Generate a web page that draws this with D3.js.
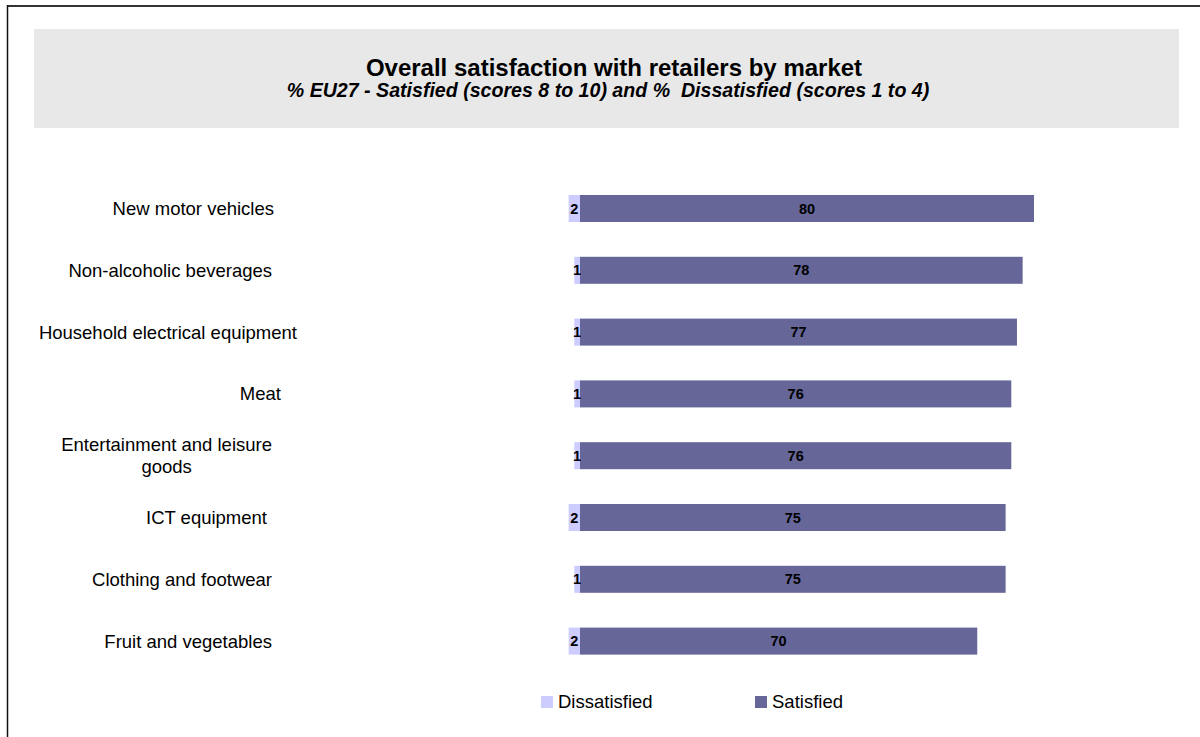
<!DOCTYPE html>
<html>
<head>
<meta charset="utf-8">
<script src="https://cdn.jsdelivr.net/npm/d3@7"></script>
<style>
  html, body { margin: 0; padding: 0; background: #ffffff; }
  svg { display: block; font-family: Arial, "Liberation Sans", sans-serif; }
  .pre { white-space: pre; }
</style>
</head>
<body>
<svg id="chart" width="1200" height="737"></svg>
<script>
// Markets, top to bottom
const categories = [
  "New motor vehicles",
  "Non-alcoholic beverages",
  "Household electrical equipment",
  "Meat",
  "Entertainment and leisure goods",
  "ICT equipment",
  "Clothing and footwear",
  "Fruit and vegetables"
];
// % Dissatisfied (scores 1 to 4)
const dissatisfied = [2, 1, 1, 1, 1, 2, 1, 2];
// % Satisfied (scores 8 to 10)
const satisfied = [80, 78, 77, 76, 76, 75, 75, 70];

const seriesNames = ["Dissatisfied", "Satisfied"];
const titleText = "Overall satisfaction with retailers by market";
const subtitleText = "% EU27 - Satisfied (scores 8 to 10) and %  Dissatisfied (scores 1 to 4)";

// Wrapped category labels
const labelLines = {
  "Entertainment and leisure goods": ["Entertainment and leisure", "goods"]
};
// Small horizontal nudges for category labels
const labelNudge = {
  "New motor vehicles": 2,
  "Household electrical equipment": 25,
  "Meat": 9,
  "ICT equipment": -5
};

const colors = { Dissatisfied: "#ccccff", Satisfied: "#666699" };

const svg = d3.select("#chart");

// Outer frame (top and left edges)
svg.append("line").attr("x1", 7).attr("x2", 1200).attr("y1", 6).attr("y2", 6)
  .attr("stroke", "#333").attr("stroke-width", 2);
svg.append("line").attr("x1", 7.5).attr("x2", 7.5).attr("y1", 5).attr("y2", 737)
  .attr("stroke", "#111").attr("stroke-width", 1.5);

// Title panel
svg.append("rect").attr("x", 34).attr("y", 29).attr("width", 1145).attr("height", 99)
  .attr("fill", "#e8e8e8");
svg.append("text").attr("x", 614).attr("y", 76).attr("text-anchor", "middle")
  .attr("font-size", 24).attr("font-weight", "bold").attr("fill", "#000")
  .text(titleText);
svg.append("text").attr("class", "pre").attr("x", 608).attr("y", 97).attr("text-anchor", "middle")
  .attr("font-size", 19.6).attr("font-weight", "bold").attr("font-style", "italic")
  .attr("fill", "#000").text(subtitleText);

// Scales
const x = d3.scaleLinear().domain([-10, 100]).range([523.25, 1147.5]);
const y = d3.scaleBand().domain(categories).range([177.6, 672])
  .paddingInner(0.563).paddingOuter(0.2815);

const rows = categories.map((c, i) => ({ c, dis: dissatisfied[i], sat: satisfied[i] }));

// Dissatisfied segments extend left of zero
svg.append("g").selectAll("rect").data(rows).join("rect")
  .attr("x", d => x(-d.dis)).attr("width", d => x(0) - x(-d.dis))
  .attr("y", d => y(d.c)).attr("height", y.bandwidth())
  .attr("fill", colors.Dissatisfied);

// Satisfied segments extend right of zero
svg.append("g").selectAll("rect").data(rows).join("rect")
  .attr("x", x(0)).attr("width", d => x(d.sat) - x(0))
  .attr("y", d => y(d.c)).attr("height", y.bandwidth())
  .attr("fill", colors.Satisfied);

// Value labels
const valLabels = svg.append("g").attr("font-size", 14.5).attr("font-weight", "bold")
  .attr("fill", "#000").attr("text-anchor", "middle");
valLabels.selectAll("text.dis").data(rows).join("text").attr("class", "dis")
  .attr("x", d => (x(-d.dis) + x(0)) / 2)
  .attr("y", d => y(d.c) + y.bandwidth() / 2 + 5)
  .text(d => d.dis);
valLabels.selectAll("text.sat").data(rows).join("text").attr("class", "sat")
  .attr("x", d => (x(0) + x(d.sat)) / 2)
  .attr("y", d => y(d.c) + y.bandwidth() / 2 + 5)
  .text(d => d.sat);

// Category labels: right-aligned block, wrapped lines centred within it
const labelRight = 272;
const lineH = 22;
const catG = svg.append("g").attr("font-size", 18.5).attr("fill", "#000");
categories.forEach(c => {
  const lines = labelLines[c] || [c];
  const cy = y(c) + y.bandwidth() / 2;
  const t = catG.append("text").attr("text-anchor", "middle");
  const tspans = lines.map((ln, i) => t.append("tspan")
    .attr("y", cy + 6.5 + (i - (lines.length - 1) / 2) * lineH).text(ln));
  const widths = tspans.map(s => s.node().getComputedTextLength());
  const blockW = d3.max(widths);
  const cx = labelRight + (labelNudge[c] || 0) - blockW / 2;
  tspans.forEach(s => s.attr("x", cx));
});

// Legend
const legend = svg.append("g").attr("font-size", 18.5).attr("fill", "#000");
const legendX = [541, 755];
seriesNames.forEach((s, i) => {
  legend.append("rect").attr("x", legendX[i]).attr("y", 696).attr("width", 12).attr("height", 12)
    .attr("fill", colors[s]);
  legend.append("text").attr("x", legendX[i] + 17).attr("y", 708).text(s);
});
</script>
</body>
</html>
